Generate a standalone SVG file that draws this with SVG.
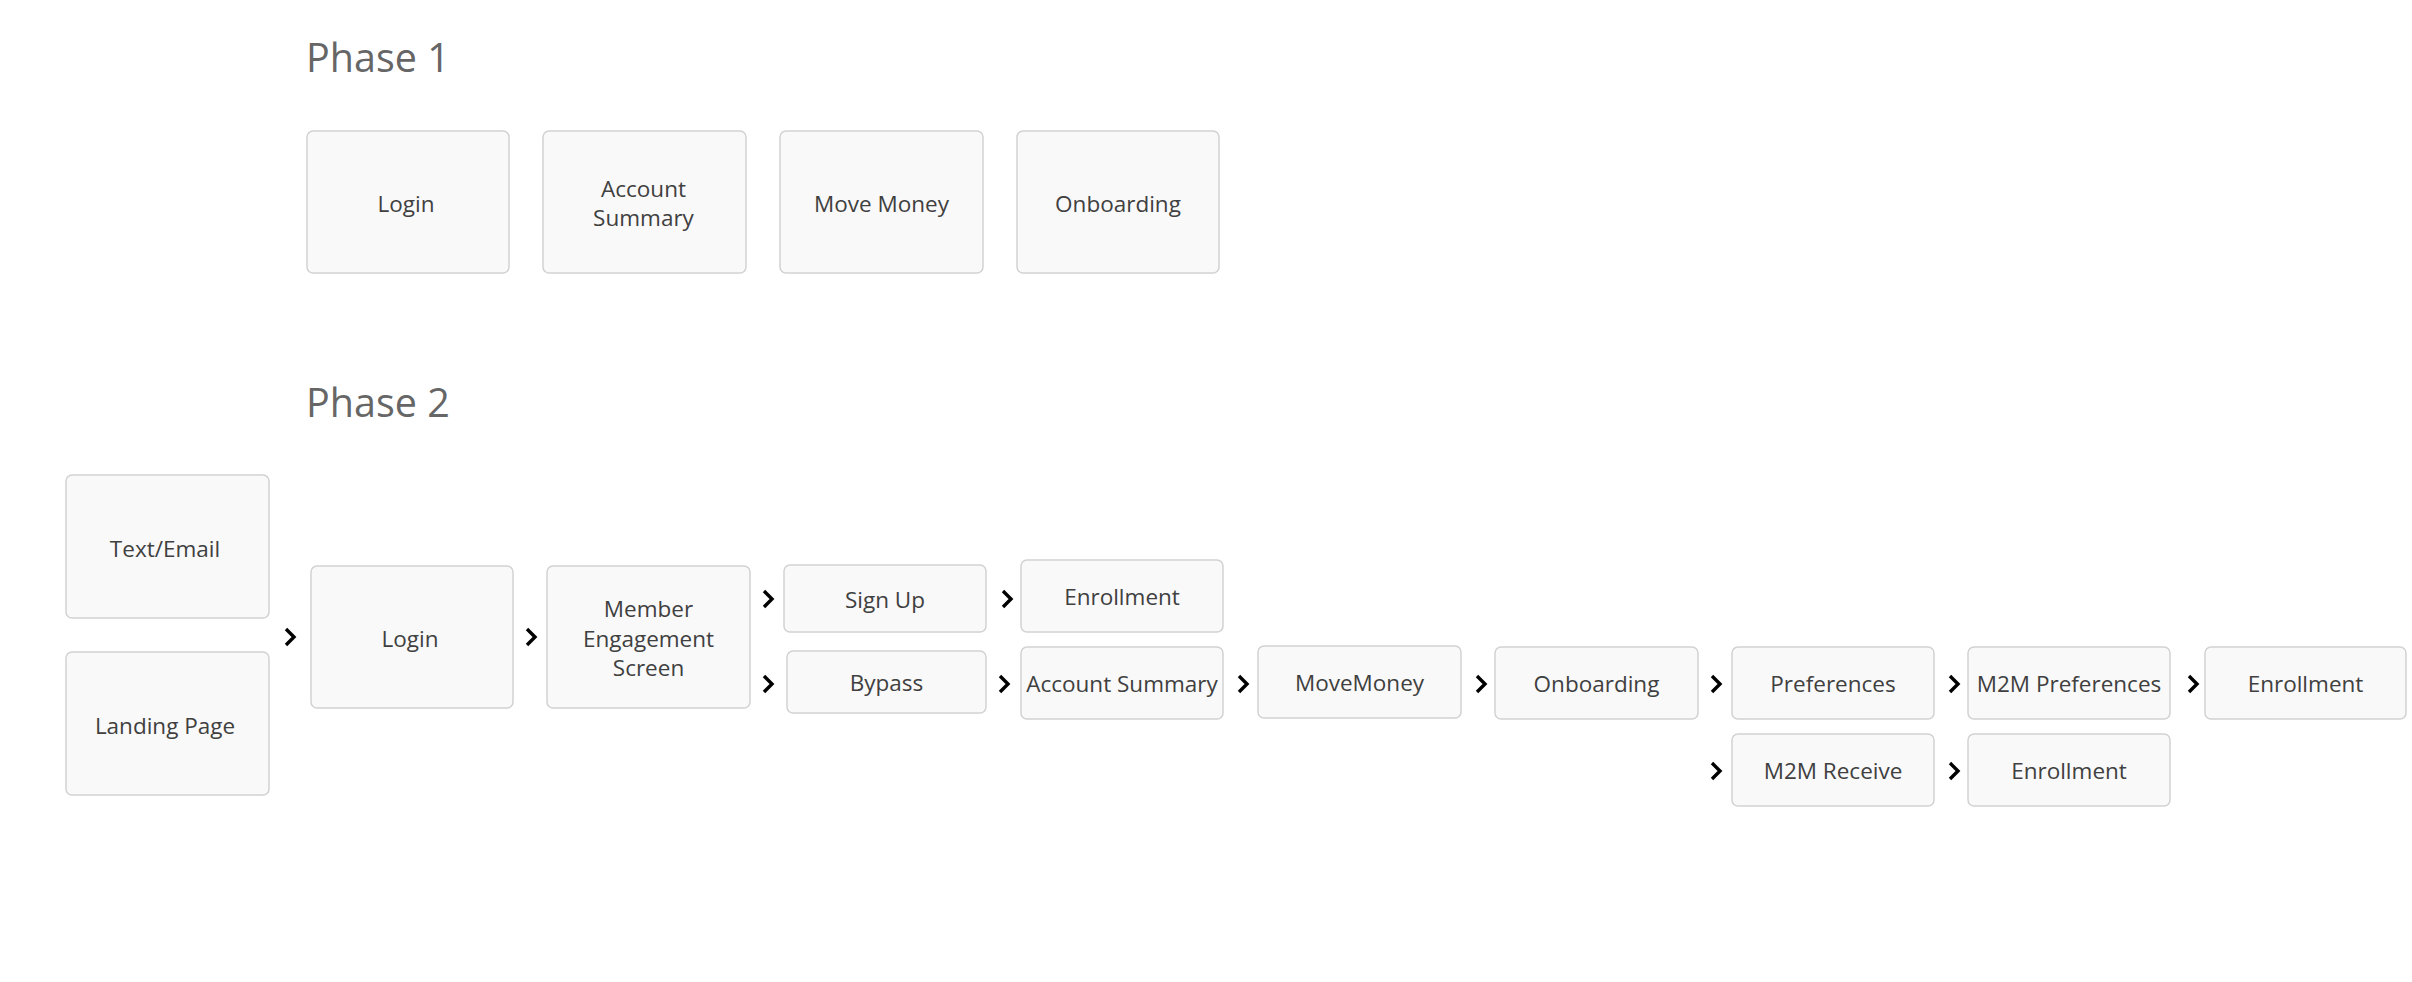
<svg xmlns="http://www.w3.org/2000/svg" width="2412" height="982" viewBox="0 0 2412 982">
<style>
  .bg { fill: #ffffff; }
  .box { fill: #f9f9f9; stroke: #d2d2d2; stroke-width: 1.5; }
  .lbl { font-family: "Open Sans", "Noto Sans", "Liberation Sans", sans-serif; font-size: 22.5px; fill: #404040; text-anchor: middle; }
  .hdr { font-family: "Open Sans", "Noto Sans", "Liberation Sans", sans-serif; font-size: 39.5px; fill: #666666; }
  .chev { fill: none; stroke: #000000; stroke-width: 3.4; stroke-linecap: butt; stroke-linejoin: miter; }
</style>
<defs>
  <path id="chev" class="chev" d="M-4,-8 L4,0 L-4,8"/>
</defs>
<rect class="bg" x="0" y="0" width="2412" height="982"/>

<text class="hdr" x="306" y="72">Phase 1</text>
<text class="hdr" x="306" y="417">Phase 2</text>

<!-- Phase 1 -->
<g id="p1-login"><rect class="box" x="307" y="131" width="202" height="142" rx="6"/><text class="lbl" x="406" y="211.5">Login</text></g>
<g id="p1-account-summary"><rect class="box" x="543" y="131" width="203" height="142" rx="6"/><text class="lbl" x="643.5" y="197">Account</text><text class="lbl" x="643.5" y="226">Summary</text></g>
<g id="p1-move-money"><rect class="box" x="780" y="131" width="203" height="142" rx="6"/><text class="lbl" x="881.5" y="211.5">Move Money</text></g>
<g id="p1-onboarding"><rect class="box" x="1017" y="131" width="202" height="142" rx="6"/><text class="lbl" x="1118" y="211.5">Onboarding</text></g>

<!-- Phase 2 -->
<g id="p2-text-email"><rect class="box" x="66" y="475" width="203" height="143" rx="6"/><text class="lbl" x="165" y="556.5">Text/Email</text></g>
<g id="p2-landing-page"><rect class="box" x="66" y="652" width="203" height="143" rx="6"/><text class="lbl" x="165" y="733.5">Landing Page</text></g>
<g id="p2-login"><rect class="box" x="311" y="566" width="202" height="142" rx="6"/><text class="lbl" x="410" y="646.5">Login</text></g>
<g id="p2-mes"><rect class="box" x="547" y="566" width="203" height="142" rx="6"/><text class="lbl" x="648.5" y="617">Member</text><text class="lbl" x="648.5" y="646.5">Engagement</text><text class="lbl" x="648.5" y="676">Screen</text></g>
<g id="p2-sign-up"><rect class="box" x="784" y="565" width="202" height="67" rx="6"/><text class="lbl" x="885" y="607.5">Sign Up</text></g>
<g id="p2-bypass"><rect class="box" x="787" y="651" width="199" height="62" rx="6"/><text class="lbl" x="886.5" y="691">Bypass</text></g>
<g id="p2-enrollment-1"><rect class="box" x="1021" y="560" width="202" height="72" rx="6"/><text class="lbl" x="1122" y="605">Enrollment</text></g>
<g id="p2-account-summary"><rect class="box" x="1021" y="647" width="202" height="72" rx="6"/><text class="lbl" x="1122" y="692">Account Summary</text></g>
<g id="p2-movemoney"><rect class="box" x="1258" y="646" width="203" height="72" rx="6"/><text class="lbl" x="1359.5" y="691">MoveMoney</text></g>
<g id="p2-onboarding"><rect class="box" x="1495" y="647" width="203" height="72" rx="6"/><text class="lbl" x="1596.5" y="692">Onboarding</text></g>
<g id="p2-preferences"><rect class="box" x="1732" y="647" width="202" height="72" rx="6"/><text class="lbl" x="1833" y="692">Preferences</text></g>
<g id="p2-m2m-preferences"><rect class="box" x="1968" y="647" width="202" height="72" rx="6"/><text class="lbl" x="2069" y="692">M2M Preferences</text></g>
<g id="p2-enrollment-2"><rect class="box" x="2205" y="647" width="201" height="72" rx="6"/><text class="lbl" x="2305.5" y="692">Enrollment</text></g>
<g id="p2-m2m-receive"><rect class="box" x="1732" y="734" width="202" height="72" rx="6"/><text class="lbl" x="1833" y="779">M2M Receive</text></g>
<g id="p2-enrollment-3"><rect class="box" x="1968" y="734" width="202" height="72" rx="6"/><text class="lbl" x="2069" y="779">Enrollment</text></g>

<!-- Connectors (chevrons) -->
<g id="connectors">
  <use href="#chev" x="290" y="637"/>
  <use href="#chev" x="531" y="637"/>
  <use href="#chev" x="768" y="599"/>
  <use href="#chev" x="768" y="684"/>
  <use href="#chev" x="1007" y="599"/>
  <use href="#chev" x="1004" y="684"/>
  <use href="#chev" x="1243" y="684"/>
  <use href="#chev" x="1481" y="684"/>
  <use href="#chev" x="1716" y="684"/>
  <use href="#chev" x="1954" y="684"/>
  <use href="#chev" x="2193" y="684"/>
  <use href="#chev" x="1716" y="771"/>
  <use href="#chev" x="1954" y="771"/>
</g>
</svg>
